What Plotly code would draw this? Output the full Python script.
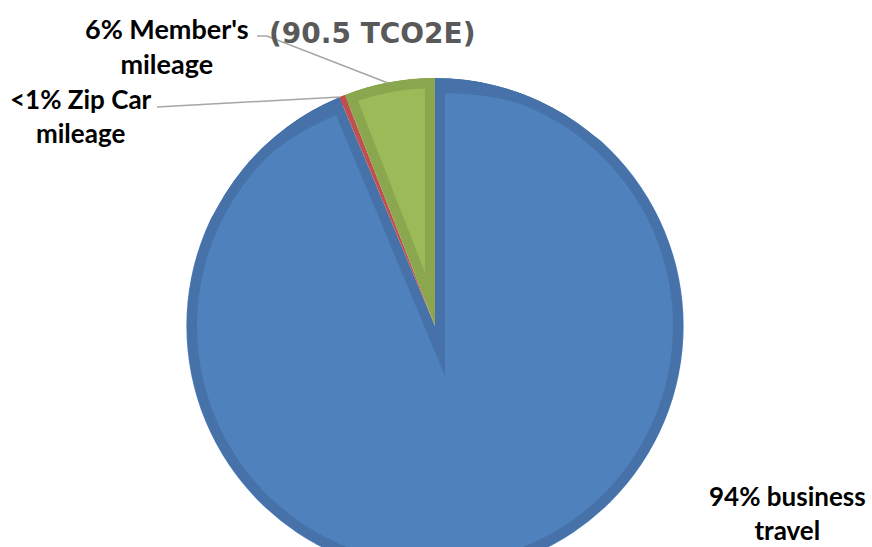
import math
import plotly.graph_objects as go

# ---- data ----
categories = ["business travel", "Zip Car mileage", "Member's mileage"]
values_tco2e = [84.8, 0.35, 5.35]
label_texts = ["94% business<br>travel", "<1% Zip Car<br>mileage", "6% Member's<br>mileage"]
title_text = "(90.5 TCO2E)"

# ---- styling ----
light = ["#4f81bd", "#c0504d", "#9bbb59"]
dark = ["#4672a9", "#c0504d", "#8aa74f"]
CLEAR = "rgba(0,0,0,0)"

W, H = 872, 700          # page taller than the window so the pie can run off the bottom
CX, CY, R = 435, 326, 248
RING = 10


def dom(cx, cy, r):
    x0, x1 = max(0.0, (cx - r) / W), min(1.0, (cx + r) / W)
    y0, y1 = max(0.0, 1 - (cy + r) / H), min(1.0, 1 - (cy - r) / H)
    return dict(x=[x0, x1], y=[y0, y1])


def px(x, y):
    return x / W, 1 - y / H


def pie(colors, cx, cy, r, hole=0.0, vals=None):
    return go.Pie(
        labels=categories, values=vals if vals is not None else values_tco2e,
        sort=False, direction="clockwise", rotation=0,
        marker=dict(colors=colors, line=dict(width=0)),
        textinfo="none", hoverinfo="skip", showlegend=False,
        hole=hole, domain=dom(cx, cy, r),
    )


total = sum(values_tco2e)
traces = [pie(dark, CX, CY, R)]  # base, darker bevel colour

# inset lighter faces for the two large slices
start = 0.0
for i, v in enumerate(values_tco2e):
    span = v / total * 360.0
    mid = math.radians(start + span / 2)
    half = math.radians(span / 2)
    start += span
    if i == 1:
        continue
    d = RING / math.sin(half)
    r_in = -d * math.cos(half) + math.sqrt((R - RING) ** 2 - RING ** 2)
    if i == 0:
        r_in -= 5
    ax = CX + d * math.sin(mid)
    ay = CY - d * math.cos(mid)
    cols = [CLEAR] * len(values_tco2e)
    cols[i] = light[i]
    traces.append(pie(cols, ax, ay, r_in))

# outer bevel ring and white mask beyond the pie edge
traces.append(pie(dark, CX, CY, R, hole=(R - RING) / R))
traces.append(pie(["white"], CX, CY, CY, hole=(R + 0.5) / CY, vals=[1]))

fig = go.Figure(traces)

anns = []
for txt, (x, y), size in zip(label_texts, [(787, 513), (81, 116), (167, 46)], [26, 26, 27]):
    xp, yp = px(x, y)
    anns.append(dict(text="<b>" + txt + "</b>", x=xp, y=yp, xref="paper", yref="paper",
                     xanchor="center", yanchor="middle", showarrow=False,
                     font=dict(family="Lato", size=size, color="#000000", weight="bold")))
tx, ty = px(372, 33)
anns.append(dict(text="<b>" + title_text + "</b>", x=tx, y=ty, xref="paper", yref="paper",
                 xanchor="center", yanchor="middle", showarrow=False,
                 font=dict(family="DejaVu Sans", size=28, color="#595959")))


def path(pts):
    s = ""
    for k, (x, y) in enumerate(pts):
        xp, yp = px(x, y)
        s += ("M" if k == 0 else "L") + f"{xp:.5f},{yp:.5f} "
    return s


shapes = [
    dict(type="path", xref="paper", yref="paper", path=path([(257, 36), (267, 36), (388, 83)]),
         line=dict(color="#a6a6a6", width=1.5)),
    dict(type="path", xref="paper", yref="paper", path=path([(157, 107), (340, 97)]),
         line=dict(color="#a6a6a6", width=1.5)),
]

fig.update_layout(width=W, height=H, margin=dict(l=0, r=0, t=0, b=0),
                  paper_bgcolor="white", plot_bgcolor="white",
                  annotations=anns, shapes=shapes)

fig.write_html("out.html", config={"displayModeBar": False},
               post_script="document.body.style.margin='0';document.documentElement.style.overflow='hidden';")
